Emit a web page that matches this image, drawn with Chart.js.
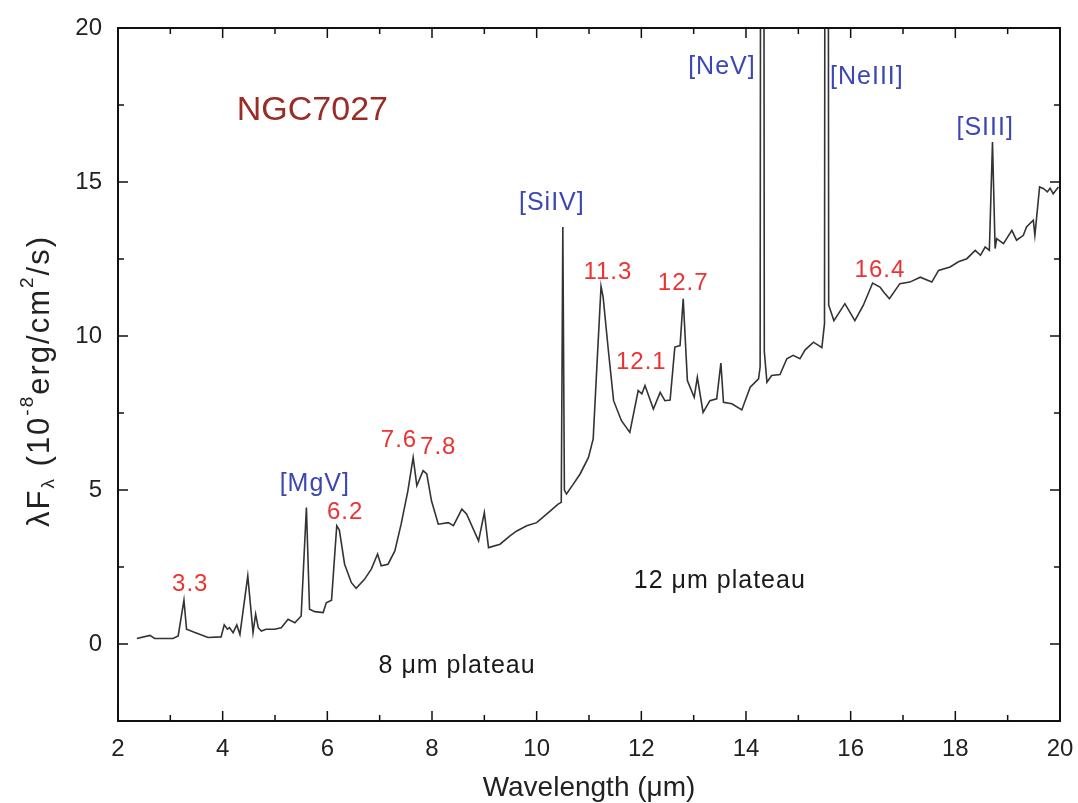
<!DOCTYPE html>
<html>
<head>
<meta charset="utf-8">
<script src="https://cdn.jsdelivr.net/npm/chart.js@4"></script>
<style>
  body { margin: 0; background: #fff; }
  #wrap { width: 1078px; height: 803px; }
</style>
</head>
<body>
<div id="wrap"><canvas id="c"></canvas></div>
<script>
// spectrum (wavelength in um, lambda F_lambda in 1e-8 erg/cm2/s)
const wavelength = [2.36,2.61,2.70,3.05,3.15,3.26,3.31,3.47,3.72,3.97,4.03,4.09,4.13,4.20,4.27,4.33,4.48,4.58,4.63,4.68,4.74,4.83,4.99,5.12,5.25,5.38,5.50,5.60,5.66,5.76,5.92,5.98,6.08,6.18,6.23,6.33,6.46,6.55,6.71,6.84,6.96,7.03,7.16,7.29,7.41,7.54,7.64,7.71,7.83,7.90,7.99,8.12,8.31,8.41,8.57,8.66,8.89,9.00,9.08,9.30,9.49,9.62,9.81,10.00,10.19,10.41,10.47,10.50,10.53,10.57,10.70,10.83,10.99,11.08,11.15,11.23,11.27,11.37,11.47,11.62,11.78,11.94,12.01,12.07,12.23,12.36,12.45,12.55,12.64,12.74,12.80,12.88,13.01,13.07,13.18,13.31,13.44,13.52,13.57,13.73,13.92,14.08,14.24,14.27,14.31,14.35,14.40,14.49,14.65,14.78,14.90,15.03,15.13,15.29,15.45,15.50,15.54,15.58,15.68,15.89,16.08,16.24,16.42,16.56,16.63,16.74,16.94,17.13,17.33,17.55,17.68,17.90,18.06,18.22,18.38,18.48,18.57,18.65,18.71,18.76,18.79,18.92,19.08,19.17,19.30,19.36,19.49,19.52,19.61,19.68,19.76,19.81,19.87,19.97];
const flux = [0.18,0.28,0.18,0.18,0.26,1.42,0.48,0.37,0.21,0.23,0.62,0.48,0.53,0.37,0.62,0.31,2.21,0.37,0.97,0.53,0.42,0.48,0.48,0.53,0.80,0.69,0.91,4.43,1.13,1.05,1.02,1.34,1.42,3.84,3.70,2.59,1.99,1.81,2.10,2.43,2.92,2.54,2.59,3.02,3.89,4.98,6.06,5.14,5.63,5.52,4.65,3.89,3.94,3.84,4.38,4.22,3.35,4.27,3.13,3.24,3.51,3.67,3.84,3.94,4.22,4.54,4.60,13.54,5.00,4.87,5.19,5.52,6.06,6.66,8.99,11.61,11.26,9.53,7.90,7.25,6.87,8.23,8.12,8.39,7.63,8.17,7.90,7.92,9.64,9.69,11.21,8.55,8.01,8.66,7.52,7.90,7.96,9.12,7.85,7.80,7.60,8.34,8.61,9.00,80,9.50,8.50,8.72,8.75,9.26,9.37,9.26,9.55,9.80,9.62,10.40,80,11.00,10.50,11.05,10.50,10.99,11.72,11.59,11.43,11.21,11.70,11.75,11.91,11.75,12.13,12.24,12.41,12.51,12.78,12.62,12.89,12.78,16.30,12.84,13.16,13.00,13.43,13.11,13.27,13.54,13.76,13.27,14.84,14.79,14.68,14.80,14.62,14.84];

const xTicks = [2,4,6,8,10,12,14,16,18,20];
const xMinor = [3,5,7,9,11,13,15,17,19];
const yTicks = [0,5,10,15,20];
const yMinor = [-2.5,2.5,7.5,12.5,17.5];

// feature labels: [text, wavelength, flux]
const bandLabels = [['3.3',3.38,1.95],['6.2',6.34,4.26],['7.6',7.37,6.6],['7.8',8.12,6.4],['11.3',11.36,12.07],['12.1',12.0,9.14],['12.7',12.80,11.7],['16.4',16.56,12.13]];
const lineLabels = [['[MgV]',5.76,5.2],['[SiIV]',10.29,14.3],['[NeV]',13.54,18.73],['[NeIII]',16.31,18.4],['[SIII]',18.57,16.75]];
const plateauLabels = [['12 \u03bcm plateau',13.50,2.05],['8 \u03bcm plateau',8.48,-0.72]];
const objectName = ['NGC7027',4.27,17.33];

const FONT = '"Liberation Sans", Arial, sans-serif';

const decor = {
  id: 'decor',
  afterDraw(chart) {
    const ctx = chart.ctx, a = chart.chartArea;
    const xs = chart.scales.x, ys = chart.scales.y;
    ctx.save();
    ctx.strokeStyle = '#111';
    ctx.lineWidth = 2;
    ctx.strokeRect(a.left, a.top, a.right - a.left, a.bottom - a.top);
    // inward ticks on all four sides
    ctx.lineWidth = 1.5;
    const tx = (vals, len) => vals.forEach(v => {
      const p = xs.getPixelForValue(v);
      ctx.beginPath();
      ctx.moveTo(p, a.bottom); ctx.lineTo(p, a.bottom - len);
      ctx.moveTo(p, a.top); ctx.lineTo(p, a.top + len);
      ctx.stroke();
    });
    const ty = (vals, len) => vals.forEach(v => {
      const p = ys.getPixelForValue(v);
      ctx.beginPath();
      ctx.moveTo(a.left, p); ctx.lineTo(a.left + len, p);
      ctx.moveTo(a.right, p); ctx.lineTo(a.right - len, p);
      ctx.stroke();
    });
    tx(xTicks, 10); tx(xMinor, 6);
    ty(yTicks, 10); ty(yMinor, 6);

    ctx.textAlign = 'center';
    ctx.textBaseline = 'middle';
    const put = (list, color, size, sp) => list.forEach(l => {
      ctx.fillStyle = color;
      ctx.font = size + 'px ' + FONT;
      ctx.letterSpacing = sp + 'px';
      ctx.fillText(l[0], xs.getPixelForValue(l[1]), ys.getPixelForValue(l[2]));
    });
    put(bandLabels, '#ec3232', 24, 1);
    put(lineLabels, '#3b47b3', 25, 1);
    put(plateauLabels, '#1a1a1a', 25, 1);
    ctx.textAlign = 'left';
    ctx.fillStyle = '#9a2b25';
    ctx.font = '34px ' + FONT;
    ctx.letterSpacing = '0px';
    ctx.fillText(objectName[0], xs.getPixelForValue(objectName[1]), ys.getPixelForValue(objectName[2]));

    // x title
    ctx.textAlign = 'center';
    ctx.fillStyle = '#222';
    ctx.font = '28px ' + FONT;
    ctx.fillText('Wavelength (\u03bcm)', (a.left + a.right) / 2, 788);

    // y title with sub/superscripts
    ctx.letterSpacing = '2px';
    const parts = [['\u03bbF',31,0],['\u03bb',19,9],[' (10',31,0],['-8',19,-12],['erg/cm',31,0],['2',19,-12],['/s)',31,0]];
    let total = 0;
    parts.forEach(p => { ctx.font = p[1] + 'px ' + FONT; total += ctx.measureText(p[0]).width; });
    ctx.translate(40, 381);
    ctx.rotate(-Math.PI / 2);
    ctx.textAlign = 'left';
    let x = -total / 2;
    parts.forEach(p => {
      ctx.font = p[1] + 'px ' + FONT;
      ctx.fillText(p[0], x, p[2]);
      x += ctx.measureText(p[0]).width;
    });
    ctx.restore();
  }
};

new Chart(document.getElementById('c'), {
  type: 'line',
  data: {
    datasets: [{
      data: wavelength.map((w, i) => ({ x: w, y: flux[i] })),
      borderColor: '#333',
      borderWidth: 1.6,
      pointRadius: 0,
      tension: 0,
      fill: false,
      clip: 0
    }]
  },
  options: {
    responsive: true,
    maintainAspectRatio: false,
    animation: false,
    layout: { padding: { top: 28, right: 18, left: 0, bottom: 0 } },
    plugins: { legend: { display: false }, tooltip: { enabled: false } },
    scales: {
      x: {
        type: 'linear', min: 2, max: 20,
        afterBuildTicks: s => { s.ticks = xTicks.map(v => ({ value: v })); },
        afterFit: s => { s.height = 82; s.paddingLeft = 0; s.paddingRight = 0; },
        grid: { display: false, drawTicks: false },
        border: { display: false },
        ticks: { font: { family: FONT, size: 24 }, color: '#222', padding: 14, maxRotation: 0 }
      },
      y: {
        type: 'linear', min: -2.5, max: 20,
        afterBuildTicks: s => { s.ticks = yTicks.map(v => ({ value: v })); },
        afterFit: s => { s.width = 118; s.paddingTop = 0; s.paddingBottom = 0; },
        grid: { display: false, drawTicks: false },
        border: { display: false },
        ticks: { font: { family: FONT, size: 24 }, color: '#222', padding: 16 }
      }
    }
  },
  plugins: [decor]
});
</script>
</body>
</html>
